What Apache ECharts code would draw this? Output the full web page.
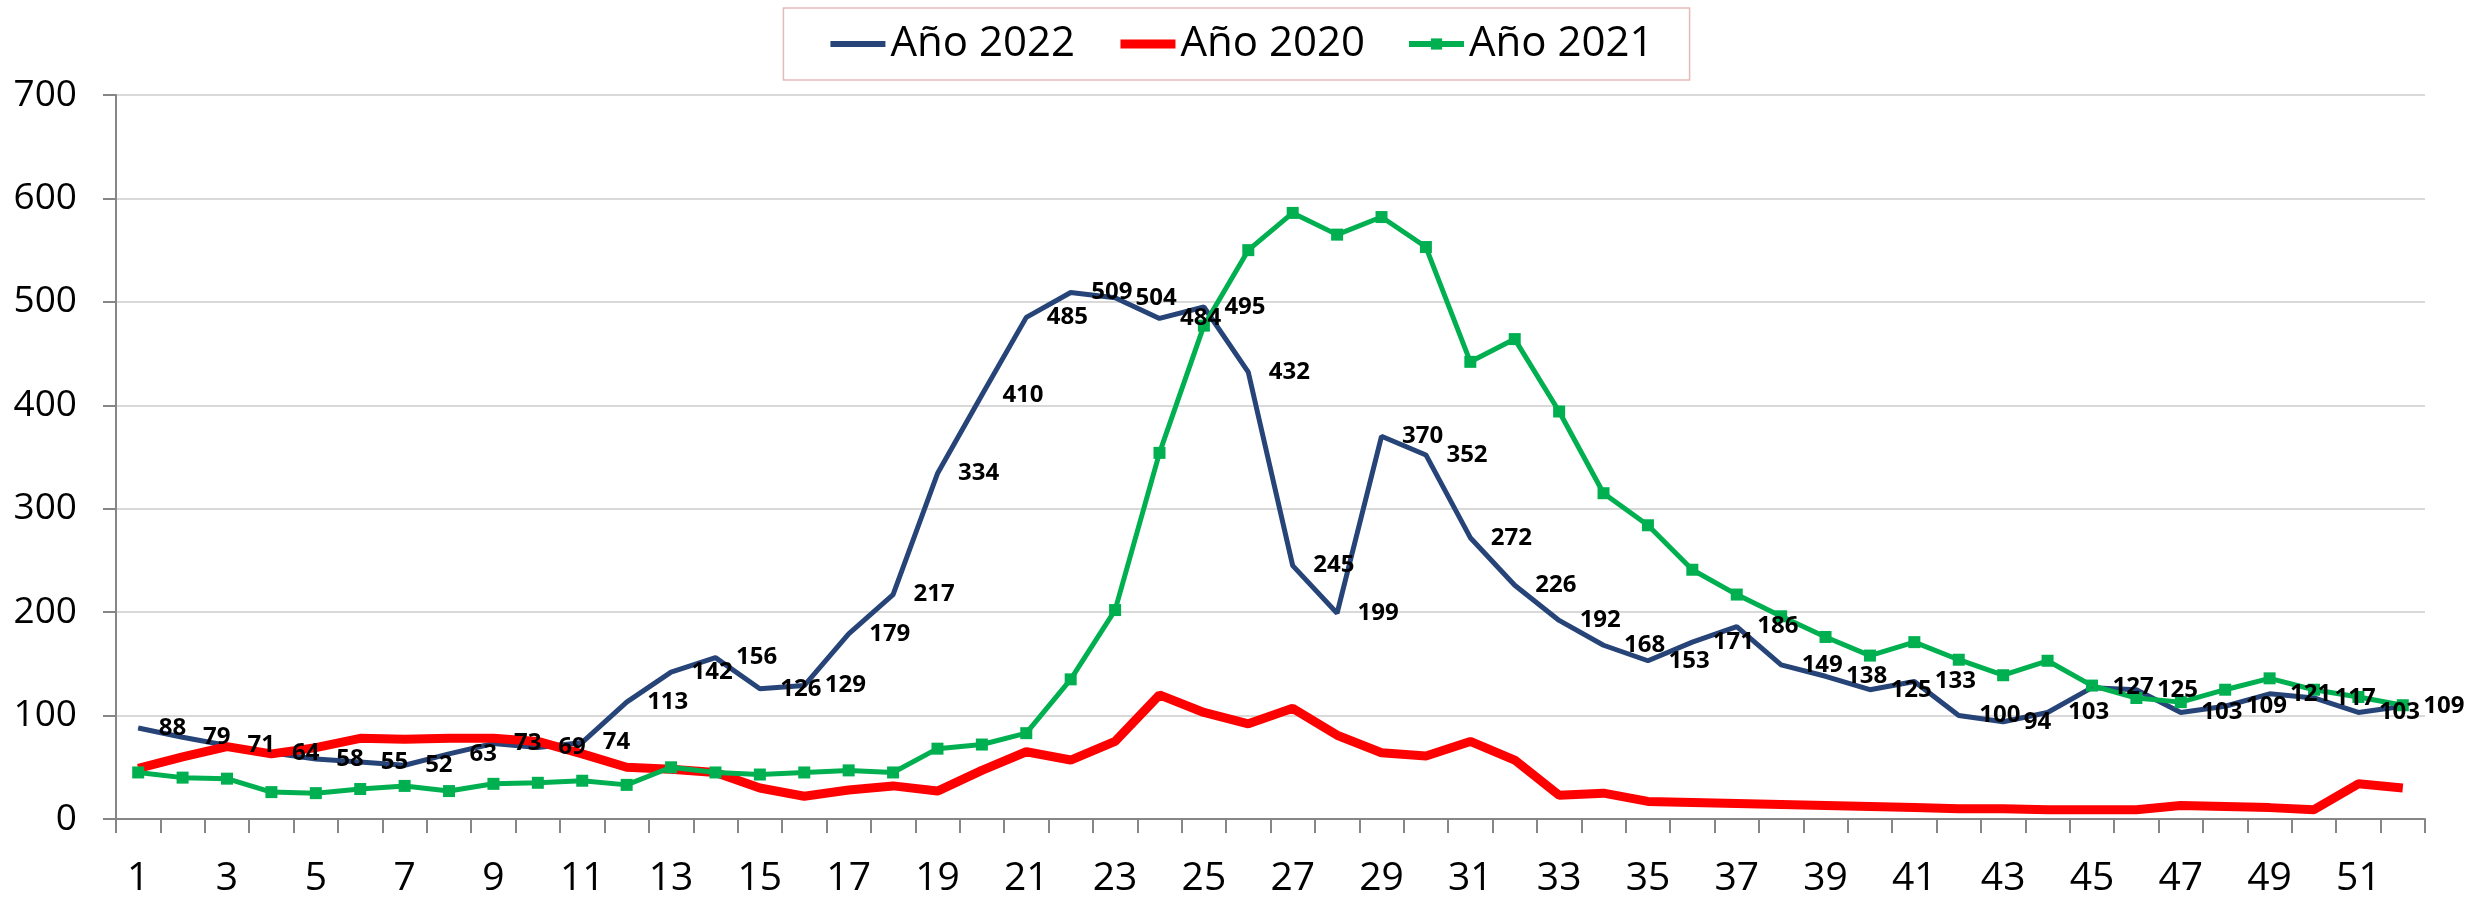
<!DOCTYPE html>
<html>
<head>
<meta charset="utf-8">
<script src="https://cdn.jsdelivr.net/npm/echarts@6/dist/echarts.min.js"></script>
<style>
  html, body { margin: 0; padding: 0; background: #fff; }
  #chart { width: 2481px; height: 901px; }
</style>
</head>
<body>
<div id="chart"></div>
<script>
// semanas epidemiologicas
const semanas = ['1','2','3','4','5','6','7','8','9','10','11','12','13','14','15','16','17','18','19','20',
  '21','22','23','24','25','26','27','28','29','30','31','32','33','34','35','36','37','38','39','40',
  '41','42','43','44','45','46','47','48','49','50','51','52'];

const anio2022 = [88, 79, 71, 64, 58, 55, 52, 63, 73, 69, 74, 113, 142, 156, 126, 129, 179, 217, 334, 410,
  485, 509, 504, 484, 495, 432, 245, 199, 370, 352, 272, 226, 192, 168, 153, 171, 186, 149, 138, 125,
  133, 100, 94, 103, 127, 125, 103, 109, 121, 117, 103, 109];

const anio2020 = [49, 60, 70, 63, 69, 78, 77, 78, 78, 75, 63, 50, 48, 45, 30, 22, 28, 32, 27, 47,
  65, 57, 75, 120, 103, 92, 107, 81, 64, 61, 75, 57, 23, 25, 17, 16, 15, 14, 13, 12,
  11, 10, 10, 9, 9, 9, 13, 12, 11, 9, 34, 30];

const anio2021 = [45, 40, 39, 26, 25, 29, 32, 27, 34, 35, 37, 33, 50, 45, 43, 45, 47, 45, 68, 72,
  83, 135, 202, 354, 477, 550, 586, 565, 582, 553, 442, 464, 394, 315, 284, 241, 217, 196, 176, 158,
  171, 154, 139, 153, 129, 117, 113, 125, 136, 125, 118, 110];

const yTicks = { min: 0, max: 700, interval: 100 };

const fuente = "'Open Sans', 'Liberation Sans', sans-serif";
const azul = '#264478';
const rojo = '#FF0000';
const verde = '#00B050';

let chartDom = document.getElementById('chart');
let myChart = echarts.init(chartDom);
let option;

option = {
  backgroundColor: '#ffffff',
  animation: false,
  textStyle: { fontFamily: fuente },
  legend: {
    data: [
      { name: 'Año 2022', itemStyle: { opacity: 0 }, lineStyle: { width: 6, color: azul } },
      { name: 'Año 2020', itemStyle: { opacity: 0 }, lineStyle: { width: 9, color: rojo } },
      { name: 'Año 2021', lineStyle: { width: 6, color: verde } }
    ],
    left: 'center',
    top: 8,
    padding: [15, 36, 15, 44],
    itemGap: 41,
    itemWidth: 55,
    itemHeight: 14,
    borderColor: '#E6B9B8',
    borderWidth: 1.5,
    textStyle: { fontSize: 42, color: '#000', fontFamily: fuente }
  },
  grid: {
    left: 116,
    right: 56,
    top: 95,
    bottom: 82,
    containLabel: false,
    outerBoundsMode: 'none'
  },
  xAxis: {
    type: 'category',
    boundaryGap: true,
    data: semanas,
    axisLine: { lineStyle: { color: '#868686', width: 2 } },
    axisTick: { show: true, interval: 0, length: 14, lineStyle: { color: '#868686', width: 2 } },
    axisLabel: { interval: 1, margin: 40, fontSize: 39, color: '#000', fontFamily: fuente },
    splitLine: { show: false }
  },
  yAxis: {
    type: 'value',
    min: yTicks.min,
    max: yTicks.max,
    interval: yTicks.interval,
    axisLine: { show: true, lineStyle: { color: '#868686', width: 2 } },
    axisTick: { show: true, length: 13, lineStyle: { color: '#868686', width: 2 } },
    axisLabel: { margin: 39, fontSize: 37, color: '#000', fontFamily: fuente },
    splitLine: { lineStyle: { color: '#D9D9D9', width: 2 } }
  },
  series: [
    {
      name: 'Año 2022',
      type: 'line',
      data: anio2022,
      symbol: 'none',
      lineStyle: { color: azul, width: 5 },
      itemStyle: { color: azul },
      z: 2
    },
    {
      name: 'Año 2020',
      type: 'line',
      data: anio2020,
      symbol: 'none',
      lineStyle: { color: rojo, width: 9 },
      itemStyle: { color: rojo },
      z: 3
    },
    {
      name: 'Año 2021',
      type: 'line',
      data: anio2021,
      symbol: 'rect',
      symbolSize: 12,
      showAllSymbol: true,
      lineStyle: { color: verde, width: 5 },
      itemStyle: { color: verde },
      z: 4
    },
    {
      // etiquetas de 2022 por encima de todas las lineas
      name: 'etiquetas 2022',
      type: 'line',
      data: anio2022,
      symbol: 'circle',
      symbolSize: 1,
      showAllSymbol: true,
      lineStyle: { width: 0, opacity: 0 },
      itemStyle: { color: azul },
      label: {
        show: true,
        position: 'right',
        distance: 20,
        fontSize: 24,
        fontWeight: 'bold',
        color: '#000',
        fontFamily: fuente
      },
      silent: true,
      z: 10
    }
  ]
};

option && myChart.setOption(option);
</script>
</body>
</html>
